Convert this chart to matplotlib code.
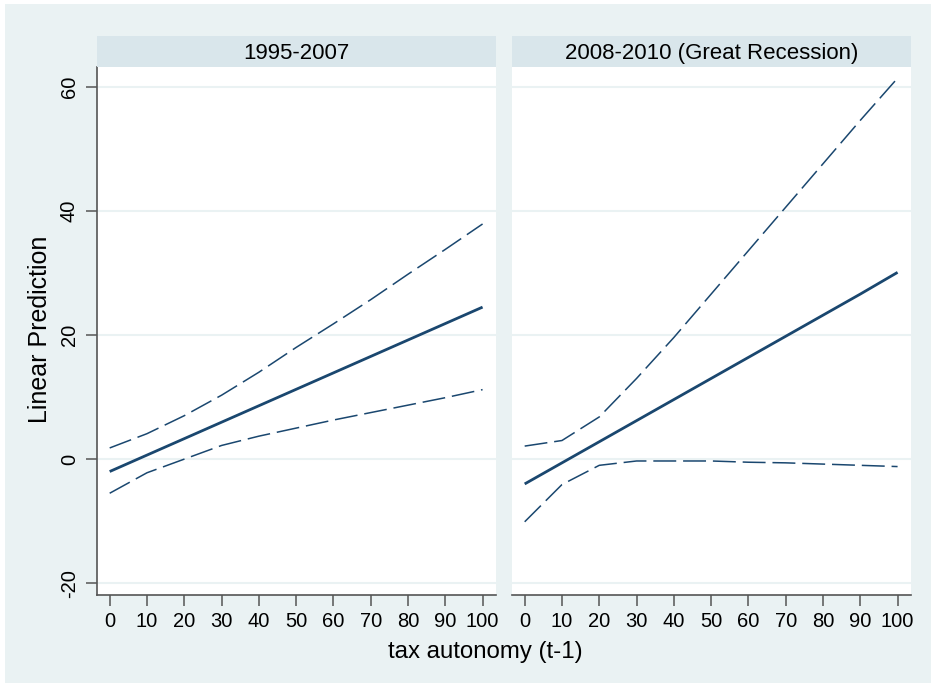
import matplotlib
matplotlib.use("Agg")
import matplotlib.pyplot as plt
from matplotlib.patches import Rectangle

plt.rcParams['font.family'] = ['Liberation Sans', 'DejaVu Sans']
plt.rcParams['axes.unicode_minus'] = False

# predicted values over tax autonomy, with 95% CI bounds
autonomy = [0, 10, 20, 30, 40, 50, 60, 70, 80, 90, 100]

pre_fit = [-2.0, 0.65, 3.3, 5.95, 8.6, 11.25, 13.9, 16.55, 19.2, 21.85, 24.5]
pre_hi = [1.8, 4.1, 7.0, 10.3, 14.0, 18.0, 21.8, 25.7, 29.8, 33.8, 37.9]
pre_lo = [-5.5, -2.2, 0.0, 2.2, 3.7, 5.0, 6.3, 7.5, 8.7, 9.9, 11.2]

rec_fit = [-4.0, -0.6, 2.8, 6.2, 9.6, 13.0, 16.4, 19.8, 23.2, 26.6, 30.1]
rec_hi = [2.1, 3.0, 6.8, 13.0, 19.6, 26.6, 33.6, 40.6, 47.6, 54.6, 61.4]
rec_lo = [-10.1, -4.1, -1.0, -0.3, -0.3, -0.3, -0.5, -0.6, -0.8, -1.0, -1.2]

panels = [("1995-2007", pre_fit, pre_hi, pre_lo),
          ("2008-2010 (Great Recession)", rec_fit, rec_hi, rec_lo)]

bg = '#EAF2F3'
strip = '#D9E6EB'
navy = '#1A476F'
axcol = '#555555'

W, H = 931, 683
fig = plt.figure(figsize=(W / 100, H / 100), dpi=100)
fig.patch.set_facecolor('white')
fig.patches.append(Rectangle((5 / W, 0), 1, 1 - 4 / H, transform=fig.transFigure,
                             facecolor=bg, edgecolor='none', zorder=-10))

lefts = [97, 512]
pw = 399
top, bottom = 67, 595
for i, (title, fit, hi, lo) in enumerate(panels):
    ax = fig.add_axes([lefts[i] / W, 1 - bottom / H, pw / W, (bottom - top) / H])
    ax.set_facecolor('white')
    for y in [-20, 0, 20, 40, 60]:
        ax.axhline(y, color=bg, lw=1.5, zorder=0)
    ax.plot(autonomy, fit, color=navy, lw=2.0, solid_capstyle='butt')
    for band in (hi, lo):
        ln, = ax.plot(autonomy, band, color=navy, lw=1.1)
        ln.set_dashes((15, 4.5))
    ax.set_xlim(-3.4, 103.6)
    ax.set_ylim(-21.9, 63.2)
    ax.set_xticks(range(0, 101, 10))
    ax.set_yticks([-20, 0, 20, 40, 60])
    for s in ['top', 'right']:
        ax.spines[s].set_visible(False)
    ax.spines['bottom'].set_color(axcol)
    ax.spines['bottom'].set_linewidth(1.2)
    ax.tick_params(axis='x', direction='out', length=8, width=1.1, color=axcol,
                   labelsize=14.5, pad=4)
    if i == 0:
        ax.spines['left'].set_color(axcol)
        ax.spines['left'].set_linewidth(1.2)
        ax.tick_params(axis='y', direction='out', length=8, width=1.1, color=axcol,
                       labelsize=14.5, labelrotation=90, pad=5)
        for lab in ax.get_yticklabels():
            lab.set_va('center')
    else:
        ax.spines['left'].set_visible(False)
        ax.tick_params(axis='y', left=False, labelleft=False)

    # header strip above each panel
    sax = fig.add_axes([lefts[i] / W, 1 - top / H, pw / W, 31 / H])
    sax.set_facecolor(strip)
    sax.set_xticks([])
    sax.set_yticks([])
    for s in sax.spines.values():
        s.set_visible(False)
    sax.text(0.5, 0.45, title, ha='center', va='center', fontsize=16,
             transform=sax.transAxes)

fig.text(40 / W, 1 - 329 / H, "Linear Prediction", rotation=90, ha='center',
         va='center', fontsize=18)
fig.text(485 / W, 1 - 652 / H, "tax autonomy (t-1)", ha='center', va='center',
         fontsize=17.3)

fig.savefig('out.png', dpi=100, facecolor=fig.get_facecolor())
